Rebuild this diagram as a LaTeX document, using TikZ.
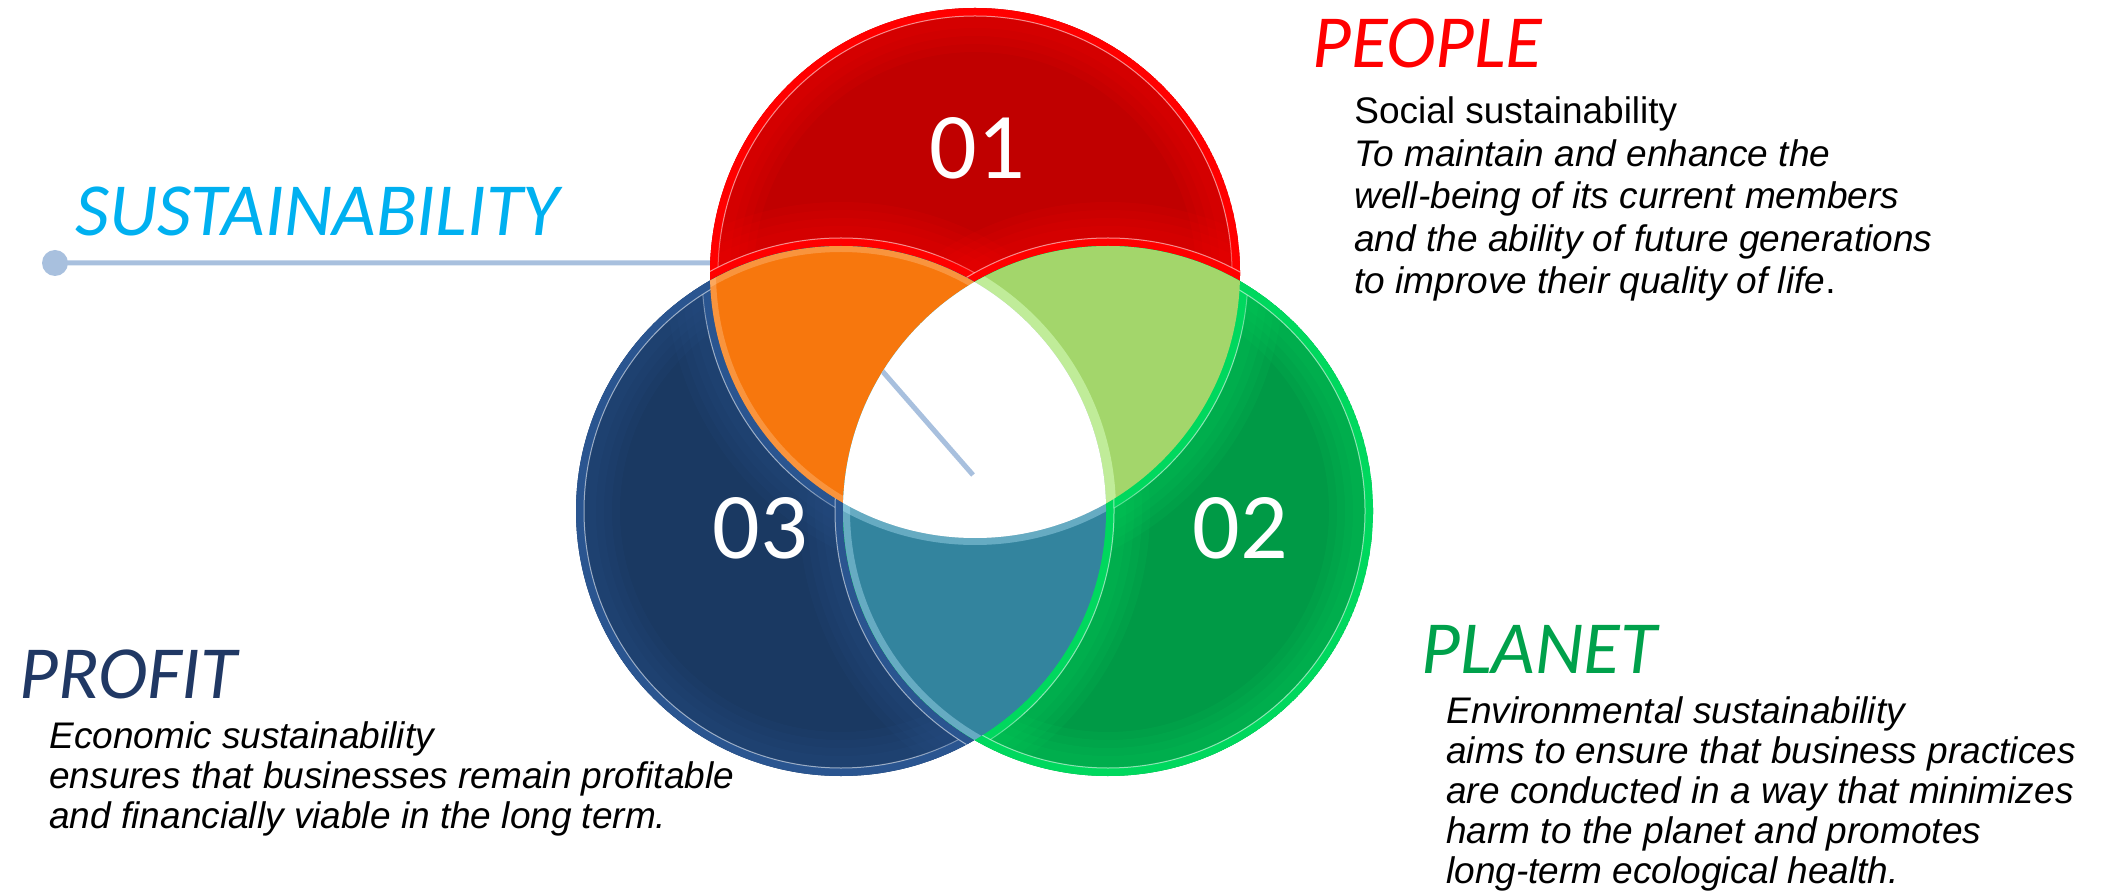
\documentclass[tikz,border=0pt]{standalone}
\usepackage{fontspec}
\setmainfont{Liberation Sans}
\newfontfamily\headfont{Carlito}
\usepackage{tikz}
\usetikzlibrary{positioning}

\definecolor{redmain}{HTML}{C00000}
\definecolor{redrim}{HTML}{FF0000}
\definecolor{bluemain}{HTML}{1A3962}
\definecolor{bluerim}{HTML}{2A5590}
\definecolor{greenmain}{HTML}{009A46}
\definecolor{greenrim}{HTML}{00D85E}
\definecolor{orangepart}{HTML}{F7770D}
\definecolor{limepart}{HTML}{A3D66B}
\definecolor{tealpart}{HTML}{33849E}
\definecolor{linkblue}{HTML}{A8C0DE}
\definecolor{skyhead}{HTML}{00B0F0}
\definecolor{peoplehead}{HTML}{FF0000}
\definecolor{planethead}{HTML}{00A14B}
\definecolor{profithead}{HTML}{203864}

\newcommand{\rr}{265}

\begin{document}
\begin{tikzpicture}[x=0.5pt, y=-0.5pt,
		rimline/.style={line width=8pt},
		softline/.style={line width=#1, opacity=0.1},
		glintline/.style={line width=0.5pt, white, opacity=0.55},
		linkline/.style={line width=2.5pt, linkblue},
		numlabel/.style={text=white, inner sep=0, font=\headfont\fontsize{47}{50}\selectfont},
		headlabel/.style={anchor=base west, inner sep=0, font=\headfont\itshape\fontsize{37.5}{40}\selectfont},
		bodytext/.style={anchor=base west, inner sep=0, align=left, font=\itshape\fontsize{18.5}{20}\selectfont},
]
\useasboundingbox (0,0) rectangle (2108,892);

\coordinate (red) at (975,273);
\coordinate (blue) at (841,511);
\coordinate (green) at (1108,511);

% connector, mostly hidden under the rings
\coordinate (dot) at (55,263);
\coordinate (bend) at (788,263);
\coordinate (hub) at (973,475);
\draw[linkline] (dot) -- (bend) -- (hub);
\fill[linkblue] (dot) circle[radius=13];

% the three rings with a bright rim
\foreach \c/\main/\rim in {red/redmain/redrim, blue/bluemain/bluerim, green/greenmain/greenrim} {
	\begin{scope}
		\clip (\c) circle[radius=\rr];
		\fill[\main] (\c) circle[radius=\rr];
		\foreach \o in {red,blue,green} {
			\foreach \w in {44pt,36pt,28pt,20pt}
				\draw[softline=\w, \rim] (\o) circle[radius=\rr];
			\draw[rimline, \rim] (\o) circle[radius=\rr];
			\draw[glintline] (\o) circle[radius=\rr-8];
			\draw[glintline] (\o) circle[radius=\rr+8];
		}
	\end{scope}
}

% overlaps
\foreach \a/\b/\col in {red/blue/orangepart, red/green/limepart, blue/green/tealpart} {
	\begin{scope}
		\clip (\a) circle[radius=\rr];
		\fill[\col] (\b) circle[radius=\rr];
	\end{scope}
}

\begin{scope}
	\clip (red) circle[radius=\rr];
	\clip (blue) circle[radius=\rr];
	\draw[line width=6pt, orange!40!white, opacity=0.35] (blue) circle[radius=\rr];
	\draw[line width=6pt, orange!40!white, opacity=0.35] (red) circle[radius=\rr];
\end{scope}
\begin{scope}
	\clip (red) circle[radius=\rr];
	\clip (green) circle[radius=\rr];
	\draw[line width=10pt, green!60!yellow!25!white, opacity=0.55] (blue) circle[radius=\rr];
\end{scope}
\begin{scope}
	\clip (blue) circle[radius=\rr];
	\clip (green) circle[radius=\rr];
	\draw[line width=7pt, cyan!30!white, opacity=0.4] (green) circle[radius=\rr];
	\draw[line width=7pt, cyan!30!white, opacity=0.4] (red) circle[radius=\rr];
\end{scope}

% white centre, connector end visible inside
\begin{scope}
	\clip (red) circle[radius=\rr];
	\clip (blue) circle[radius=\rr];
	\clip (green) circle[radius=\rr];
	\fill[white] (green) circle[radius=\rr];
	\draw[linkline] (bend) -- (hub);
\end{scope}

\node[numlabel] (n1) at (977,148) {01};
\node[numlabel] (n2) at (1240,528) {02};
\node[numlabel] (n3) at (760,528) {03};

\node[headlabel, text=skyhead] (sust) at (75,236) {SUSTAINABILITY};
\node[headlabel, text=peoplehead] (people) at (1312,68) {PEOPLE};
\node[headlabel, text=planethead] (planet) at (1421,673) {PLANET};
\node[headlabel, text=profithead] (profit) at (19,698) {PROFIT};

% multi-line texts sit on their last baseline
\node[bodytext, font=\itshape\fontsize{18.5}{21.25}\selectfont] (peopletext) at (1354,294) {{\upshape Social sustainability}\\
	To maintain and enhance the\\
	well-being of its current members\\
	and the ability of future generations\\
	to improve their quality of life{\upshape .}};
\node[bodytext] (planettext) at (1446,883) {Environmental sustainability\\
	aims to ensure that business practices\\
	are conducted in a way that minimizes\\
	harm to the planet and promotes\\
	long-term ecological health.};
\node[bodytext] (profittext) at (49,828) {Economic sustainability\\
	ensures that businesses remain profitable\\
	and financially viable in the long term.};

\end{tikzpicture}
\end{document}
